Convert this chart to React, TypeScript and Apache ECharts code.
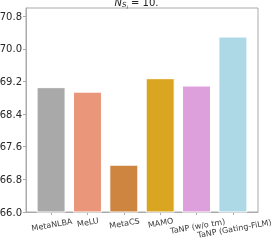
import React, { useEffect, useRef } from "react";
import * as echarts from "echarts";

const categories = ["MetaNLBA", "MeLU", "MetaCS", "MAMO", "TaNP (w/o tm)", "TaNP (Gating-FiLM)"];
const values = [69.06, 68.95, 67.16, 69.28, 69.10, 70.30];
const colors = ["#a9a9a9", "#e9967a", "#cd853f", "#daa520", "#dda0dd", "#add8e6"];
const yTicks = [66.0, 66.8, 67.6, 68.4, 69.2, 70.0, 70.8];
const yMin = 66.0;
const yMax = 71.0;

const LABEL_FONT = "8px 'DejaVu Sans'";

function measure(text: string): number {
  const c = document.createElement("canvas").getContext("2d");
  if (!c) return text.length * 5;
  c.font = LABEL_FONT;
  return c.measureText(text).width;
}

export default function App() {
  const ref = useRef<HTMLDivElement>(null);
  useEffect(() => {
    if (!ref.current) return;
    const chart = echarts.init(ref.current, undefined, { renderer: "svg" });
    const idx = categories.map((_, i) => i);
    const evenIdx = idx.filter((i) => i % 2 === 0);
    const oddIdx = idx.filter((i) => i % 2 === 1);
    const rich: Record<string, any> = {};
    categories.forEach((name, i) => {
      const w = measure(name);
      rich["c" + i] = {
        fontSize: 8,
        fontFamily: "DejaVu Sans",
        color: "#383838",
        padding: [Math.round(w * 0.24), 0, 0, 0],
      };
    });
    const labelBase = {
      rotate: 10,
      align: "center",
      verticalAlign: "middle",
      margin: 8,
      hideOverlap: false,
      showMinLabel: true,
      showMaxLabel: true,
      formatter: (v: number) => `{c${Math.round(v)}|${categories[Math.round(v)]}}`,
      rich,
    };
    const xMin = -0.69;
    const xMax = categories.length - 1 + 0.69;
    chart.setOption({
      animation: false,
      title: {
        text: "{n|N}{s|S}{ss|i}{t| = 10.}",
        left: "center",
        top: -10,
        textStyle: {
          fontWeight: "normal",
          rich: {
            n: { fontSize: 10, fontStyle: "italic", fontWeight: "normal", fontFamily: "DejaVu Sans", color: "#222" },
            s: { fontSize: 7, fontStyle: "italic", fontWeight: "normal", fontFamily: "DejaVu Sans", color: "#222", padding: [6, 0, 0, 0] },
            ss: { fontSize: 5, fontStyle: "italic", fontWeight: "normal", fontFamily: "DejaVu Sans", color: "#222", padding: [9, 0, 0, 0] },
            t: { fontSize: 10, fontWeight: "normal", fontFamily: "DejaVu Sans", color: "#222" },
          },
        },
      },
      grid: {
        left: 26,
        right: 15,
        top: 8,
        bottom: 28,
        show: true,
        borderColor: "#aaaaaa",
        borderWidth: 1,
        outerBoundsMode: "none",
        containLabel: false,
      },
      xAxis: [
        {
          type: "value",
          min: xMin,
          max: xMax,
          splitLine: { show: false },
          axisLine: { show: true, onZero: false, lineStyle: { color: "#aaaaaa", width: 1 } },
          axisTick: { show: true, customValues: idx, length: 3, lineStyle: { color: "#aaaaaa" } },
          axisLabel: { ...labelBase, customValues: evenIdx },
        },
        {
          type: "value",
          position: "bottom",
          offset: 0,
          min: xMin,
          max: xMax,
          splitLine: { show: false },
          axisLine: { show: false, onZero: false },
          axisTick: { show: false },
          axisLabel: { ...labelBase, customValues: oddIdx },
        },
      ],
      yAxis: {
        type: "value",
        min: yMin,
        max: yMax,
        splitLine: { show: false },
        axisLine: { show: true, onZero: false, lineStyle: { color: "#aaaaaa", width: 1 } },
        axisTick: { show: true, customValues: yTicks, length: 3, lineStyle: { color: "#aaaaaa" } },
        axisLabel: {
          customValues: yTicks,
          margin: 4,
          fontSize: 10,
          fontFamily: "DejaVu Sans",
          color: "#262626",
          formatter: (v: number) => v.toFixed(1),
        },
      },
      series: [
        {
          type: "bar",
          xAxisIndex: 0,
          barWidth: 29,
          data: values.map((v, i) => ({
            value: [i, v],
            itemStyle: { color: colors[i], borderColor: "#ffffff", borderWidth: 1 },
          })),
        },
      ],
    });
    return () => chart.dispose();
  }, []);
  return <div ref={ref} style={{ position: "fixed", left: 0, top: 0, width: 273, height: 240 }} />;
}
